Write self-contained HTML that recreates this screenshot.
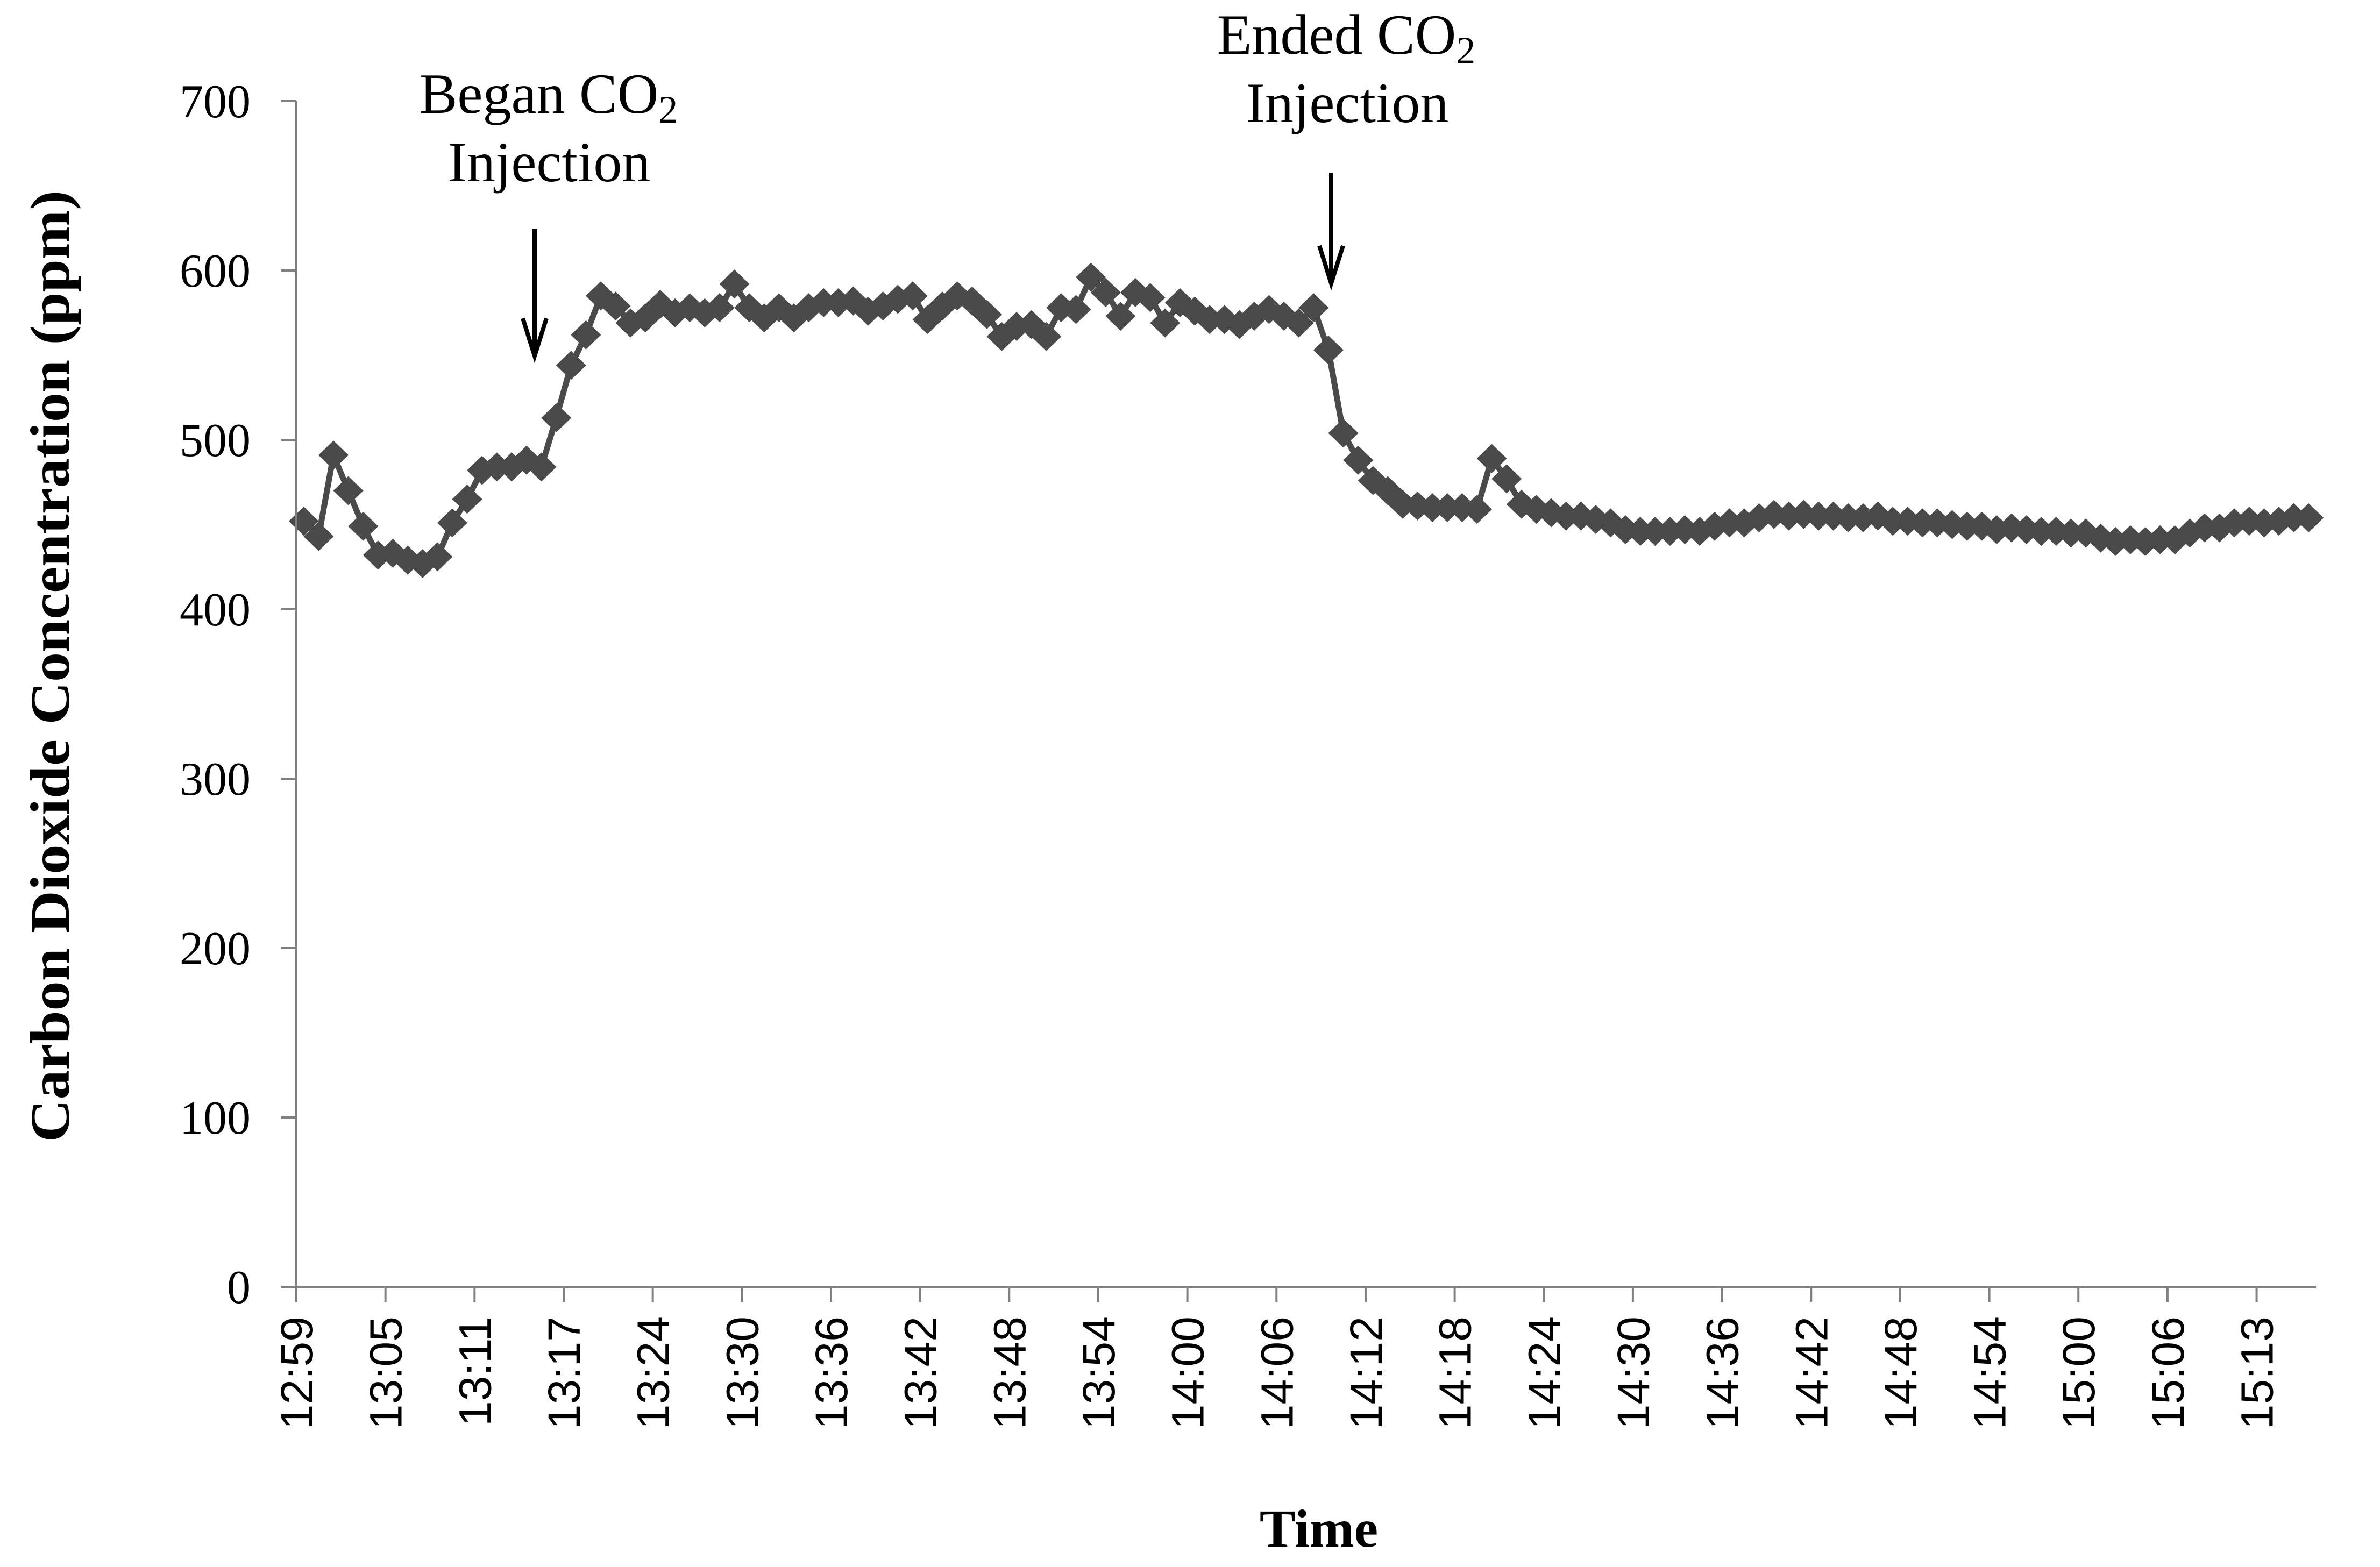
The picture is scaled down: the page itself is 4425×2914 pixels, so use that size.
<!DOCTYPE html>
<html><head><meta charset="utf-8"><style>
html,body{margin:0;padding:0;background:#fff;}
svg{display:block;}
</style></head><body>
<svg id="chart" xmlns="http://www.w3.org/2000/svg" width="4425" height="2914" viewBox="0 0 4425 2914">
<rect x="0" y="0" width="4425" height="2914" fill="#fff"/>
<g id="series"></g>
<g id="axes"></g>
<g id="annotations">
  <text x="1020" y="210" font-family="Liberation Serif, serif" font-size="106" text-anchor="middle">Began CO<tspan font-size="72" dy="18">2</tspan></text>
  <text x="1021" y="337" font-family="Liberation Serif, serif" font-size="106" text-anchor="middle">Injection</text>
  <g stroke="#000" stroke-width="8" fill="none">
    <line x1="994" y1="425" x2="994" y2="660"/>
    <polyline points="972,592 994,662 1016,592"/>
  </g>
  <text x="2503" y="100" font-family="Liberation Serif, serif" font-size="106" text-anchor="middle">Ended CO<tspan font-size="72" dy="18">2</tspan></text>
  <text x="2505" y="227" font-family="Liberation Serif, serif" font-size="106" text-anchor="middle">Injection</text>
  <g stroke="#000" stroke-width="8" fill="none">
    <line x1="2475" y1="321" x2="2475" y2="525"/>
    <polyline points="2453,457 2475,527 2497,457"/>
  </g>
</g>
<text transform="translate(128,1239) rotate(-90)" font-family="Liberation Serif, serif" font-weight="bold" font-size="104" text-anchor="middle" textLength="1770" lengthAdjust="spacingAndGlyphs">Carbon Dioxide Concentration (ppm)</text>
<text x="2452" y="2876" font-family="Liberation Serif, serif" font-weight="bold" font-size="100" text-anchor="middle">Time</text>
</svg>
<script>
const values = [452,443,491,470,449,432,433,429,427,431,451,465,482,484,484,488,484,513,544,562,585,579,569,572,580,575,578,575,578,592,578,572,578,572,
578,581,581,582,576,579,583,585,571,579,585,582,574,561,567,568,561,578,577,596,587,573,587,584,569,581,576,571,571,568,573,577,573,569,578,553,
504,488,476,470,462,461,460,460,460,459,489,477,462,459,457,455,455,453,451,447,446,446,446,447,446,449,451,451,454,456,455,
456,455,455,454,454,455,452,452,451,451,450,449,449,447,448,447,446,446,445,445,442,440,441,440,441,441,445,448,448,451,452,451,452,454,454];
const tickLabels = ["12:59","13:05","13:11","13:17","13:24","13:30","13:36","13:42","13:48","13:54","14:00","14:06","14:12","14:18","14:24","14:30","14:36","14:42","14:48","14:54","15:00","15:06","15:13"];
const yTicks = [0,100,200,300,400,500,600,700];
const labelEvery = 6;

const NS = "http://www.w3.org/2000/svg";
const X0 = 551, X1 = 4306, Y0 = 2393, Y700 = 188;
const N = values.length;
const cw = (X1 - X0) / N;
function xPos(i){ return X0 + (i + 0.5) * cw; }
function yPos(v){ return Y0 - (v / 700) * (Y0 - Y700); }
function mk(tag, attrs, parent){ const e = document.createElementNS(NS, tag); for (const k in attrs) e.setAttribute(k, attrs[k]); parent.appendChild(e); return e; }

const axes = document.getElementById('axes');
const series = document.getElementById('series');

const yAxis = mk('line', {x1:X0, y1:Y700, x2:X0, y2:Y0+2, stroke:'#808080', 'stroke-width':4}, axes);


const xAxis = mk('line', {x1:X0-28, y1:Y0, x2:X1, y2:Y0, stroke:'#808080', 'stroke-width':4}, axes);



yTicks.forEach(v => {
  const y = yPos(v);
  const t = mk('line', {x1:X0-28, y1:y, x2:X0, y2:y, stroke:'#808080', 'stroke-width':4}, axes);
  
  
  const l = mk('text', {x:466, y:y+30, 'font-family':'Liberation Serif, serif', 'font-size':88, 'text-anchor':'end'}, axes);
  l.textContent = String(v);
  
  
});

for (let k = 0; k * labelEvery <= N; k++) {
  const x = X0 + k * labelEvery * cw;
  const t = mk('line', {x1:x, y1:Y0, x2:x, y2:Y0+28, stroke:'#808080', 'stroke-width':4}, axes);
  
  
  if (k < tickLabels.length) {
    const l = mk('text', {transform:'translate(' + (x+30) + ',2448) rotate(-90)', 'font-family':'Liberation Sans, sans-serif', 'font-size':84, 'text-anchor':'end'}, axes);
    l.textContent = tickLabels[k];
    
    
  }
}

const pts = values.map((v,i) => xPos(i).toFixed(1) + ',' + yPos(v).toFixed(1)).join(' ');
const line = mk('polyline', {points:pts, fill:'none', stroke:'#4a4a4a', 'stroke-width':11, 'stroke-linejoin':'round'}, series);


values.forEach((v,i) => {
  const x = xPos(i), y = yPos(v);
  const d = mk('polygon', {points:(x-28)+','+y+' '+x+','+(y-27)+' '+(x+28)+','+y+' '+x+','+(y+27), fill:'#4a4a4a'}, series);
  
  
});
</script>
</body></html>
